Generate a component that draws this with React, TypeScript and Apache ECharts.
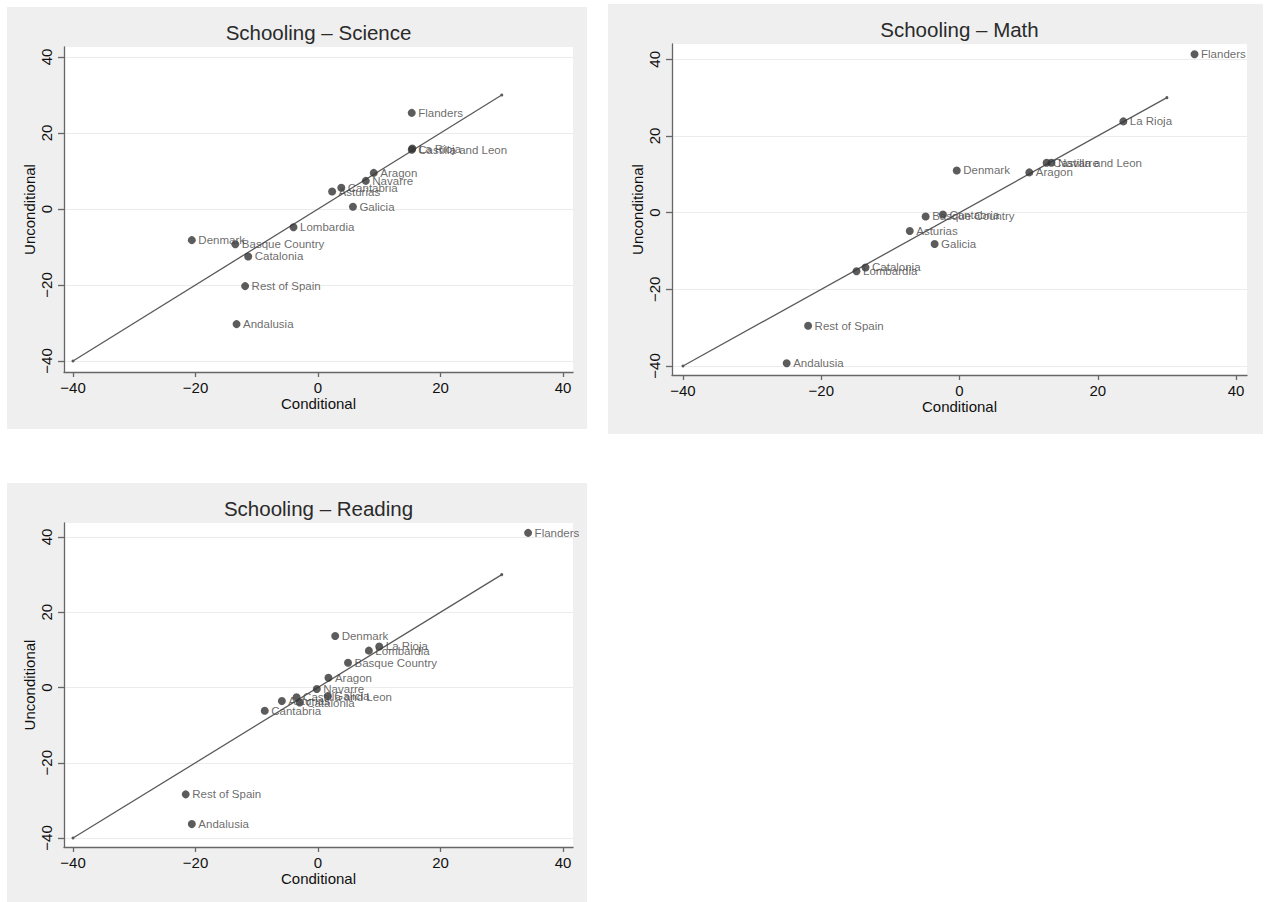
import React, { useEffect, useRef } from "react";
import * as echarts from "echarts";

// ---------- data ----------
const panelTitles = ["Schooling – Science", "Schooling – Math", "Schooling – Reading"];
const xAxisTitle = "Conditional";
const yAxisTitle = "Unconditional";
const tickValues = [-40, -20, 0, 20, 40];
const refLineX = [-40, 30];
const refLineY = [-40, 30];

const scienceNames = ["Flanders", "La Rioja", "Castilla and Leon", "Aragon", "Navarre", "Cantabria", "Asturias", "Galicia", "Lombardia", "Denmark", "Basque Country", "Catalonia", "Rest of Spain", "Andalusia"];
const scienceX = [15.3, 15.4, 15.3, 9.1, 7.8, 3.8, 2.3, 5.7, -4.0, -20.6, -13.5, -11.4, -11.9, -13.3];
const scienceY = [25.3, 15.9, 15.6, 9.5, 7.4, 5.6, 4.6, 0.6, -4.8, -8.2, -9.3, -12.5, -20.3, -30.3];

const mathNames = ["Flanders", "La Rioja", "Castilla and Leon", "Navarre", "Denmark", "Aragon", "Cantabria", "Basque Country", "Asturias", "Galicia", "Catalonia", "Lombardia", "Rest of Spain", "Andalusia"];
const mathX = [34.0, 23.7, 12.6, 13.3, -0.4, 10.1, -2.4, -4.9, -7.2, -3.6, -13.6, -14.9, -21.9, -25.0];
const mathY = [41.3, 23.8, 13.0, 13.0, 11.0, 10.5, -0.5, -1.0, -4.8, -8.2, -14.3, -15.3, -29.5, -39.3];

const readingNames = ["Flanders", "Denmark", "La Rioja", "Lombardia", "Basque Country", "Aragon", "Navarre", "Galicia", "Castilla and Leon", "Asturias", "Catalonia", "Cantabria", "Rest of Spain", "Andalusia"];
const readingX = [34.3, 2.8, 10.0, 8.3, 4.9, 1.7, -0.2, 1.6, -3.5, -5.9, -3.0, -8.7, -21.6, -20.6];
const readingY = [41.1, 13.7, 10.9, 9.8, 6.6, 2.6, -0.4, -2.3, -2.6, -3.6, -4.0, -6.2, -28.4, -36.3];

// ---------- layout ----------
const FONT = "'Liberation Sans', Arial, Helvetica, sans-serif";

const layouts = [
  { bg: [7, 7, 580, 422], grid: { left: 64, top: 47, width: 509, height: 325 }, xr: [-41.47, 41.63], yr: [-42.9, 42.63], titleY: 32 },
  { bg: [608, 4, 655, 430], grid: { left: 672, top: 44, width: 575, height: 331 }, xr: [-41.59, 41.59], yr: [-42.35, 43.99], titleY: 29 },
  { bg: [7, 483, 580, 419], grid: { left: 64, top: 523, width: 509, height: 324 }, xr: [-41.47, 41.63], yr: [-42.39, 43.72], titleY: 508 },
];

const panelData = [
  { names: scienceNames, xs: scienceX, ys: scienceY },
  { names: mathNames, xs: mathX, ys: mathY },
  { names: readingNames, xs: readingX, ys: readingY },
];

const fmtTick = (v: number) => String(v).replace("-", "\u2212");

export default function App() {
  const ref = useRef<HTMLDivElement>(null);

  useEffect(() => {
    if (!ref.current) return;
    const chart = echarts.init(ref.current, null, { renderer: "svg" });

    const axisLineStyle = { color: "#666", width: 1.3 };

    const grids = layouts.map((l) => ({
      left: l.grid.left,
      top: l.grid.top,
      width: l.grid.width,
      height: l.grid.height,
      show: true,
      backgroundColor: "#ffffff",
      borderWidth: 0,
      containLabel: false,
    }));

    const xAxes = layouts.map((l, i) => ({
      type: "value",
      gridIndex: i,
      min: l.xr[0],
      max: l.xr[1],
      name: xAxisTitle,
      nameLocation: "middle",
      nameGap: 23,
      nameTextStyle: { fontSize: 15, color: "#111", fontFamily: FONT },
      axisLine: { show: true, onZero: false, lineStyle: axisLineStyle },
      axisTick: { show: true, length: 5, lineStyle: axisLineStyle, customValues: tickValues },
      axisLabel: { show: true, margin: 8, fontSize: 15, color: "#111", fontFamily: FONT, customValues: tickValues, formatter: fmtTick },
      splitLine: { show: false },
    }));

    const yAxes = layouts.map((l, i) => ({
      type: "value",
      gridIndex: i,
      min: l.yr[0],
      max: l.yr[1],
      name: yAxisTitle,
      nameLocation: "middle",
      nameGap: 27,
      nameRotate: 90,
      nameTextStyle: { fontSize: 15, color: "#111", fontFamily: FONT },
      axisLine: { show: true, onZero: false, lineStyle: axisLineStyle },
      axisTick: { show: true, length: 6, lineStyle: axisLineStyle, customValues: tickValues },
      axisLabel: { show: true, margin: 10, rotate: 90, fontSize: 15, color: "#111", fontFamily: FONT, customValues: tickValues, formatter: fmtTick },
      splitLine: { show: true, lineStyle: { color: "#ececec", width: 1.2 } },
    }));

    const series: any[] = [];
    panelData.forEach((p, i) => {
      series.push({
        type: "line",
        xAxisIndex: i,
        yAxisIndex: i,
        data: refLineX.map((x, j) => [x, refLineY[j]]),
        symbol: "circle",
        symbolSize: 3,
        showSymbol: true,
        lineStyle: { color: "#5a5a5a", width: 1.3 },
        itemStyle: { color: "#5a5a5a" },
        silent: true,
        z: 2,
      });
      series.push({
        type: "scatter",
        xAxisIndex: i,
        yAxisIndex: i,
        data: p.xs.map((x, j) => [x, p.ys[j], p.names[j]]),
        symbol: "circle",
        symbolSize: 8,
        itemStyle: { color: "#333333" },
        label: {
          show: true,
          position: "right",
          distance: 2.5,
          formatter: (q: any) => q.data[2],
          fontSize: 11.5,
          color: "#444",
          fontFamily: FONT,
        },
        z: 3,
      });
    });

    const graphics: any[] = [];
    layouts.forEach((l, i) => {
      graphics.push({
        type: "rect",
        shape: { x: l.bg[0], y: l.bg[1], width: l.bg[2], height: l.bg[3] },
        style: { fill: "#efefef" },
        z: -10,
        silent: true,
      });
      graphics.push({
        type: "text",
        x: l.grid.left + l.grid.width / 2,
        y: l.titleY,
        style: {
          text: panelTitles[i],
          textAlign: "center",
          textVerticalAlign: "middle",
          fontSize: 20.5,
          fill: "#2a2a2a",
          fontFamily: FONT,
        },
        z: 10,
      });
    });

    chart.setOption({
      animation: false,
      backgroundColor: "#ffffff",
      grid: grids,
      xAxis: xAxes,
      yAxis: yAxes,
      series,
      graphic: { elements: graphics },
    });

    return () => chart.dispose();
  }, []);

  return (
    <div
      ref={ref}
      style={{ position: "absolute", left: 0, top: 0, width: 1268, height: 902 }}
    />
  );
}
